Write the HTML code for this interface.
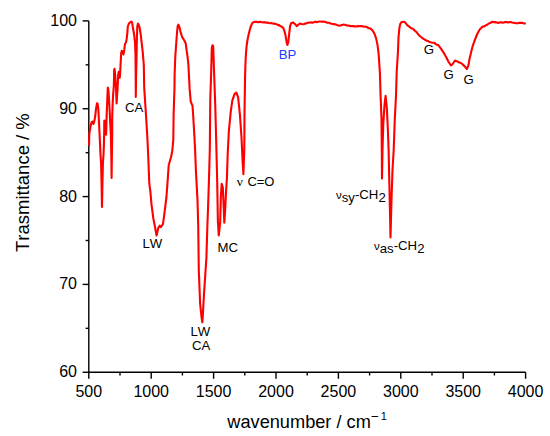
<!DOCTYPE html>
<html><head><meta charset="utf-8"><style>
html,body{margin:0;padding:0;background:#fff;}
svg{display:block;}
text{font-family:"Liberation Sans",sans-serif;fill:#000;font-kerning:none;}
</style></head><body>
<svg width="550" height="436" viewBox="0 0 550 436">
<g stroke="#000" stroke-width="1.4" fill="none">
<path d="M88.80,20.90 V372.25 H525.60"/>
<line x1="88.80" y1="372.25" x2="88.80" y2="378.75"/><line x1="151.20" y1="372.25" x2="151.20" y2="378.75"/><line x1="213.60" y1="372.25" x2="213.60" y2="378.75"/><line x1="276.00" y1="372.25" x2="276.00" y2="378.75"/><line x1="338.40" y1="372.25" x2="338.40" y2="378.75"/><line x1="400.80" y1="372.25" x2="400.80" y2="378.75"/><line x1="463.20" y1="372.25" x2="463.20" y2="378.75"/><line x1="525.60" y1="372.25" x2="525.60" y2="378.75"/><line x1="120.00" y1="372.25" x2="120.00" y2="375.45"/><line x1="182.40" y1="372.25" x2="182.40" y2="375.45"/><line x1="244.80" y1="372.25" x2="244.80" y2="375.45"/><line x1="307.20" y1="372.25" x2="307.20" y2="375.45"/><line x1="369.60" y1="372.25" x2="369.60" y2="375.45"/><line x1="432.00" y1="372.25" x2="432.00" y2="375.45"/><line x1="494.40" y1="372.25" x2="494.40" y2="375.45"/><line x1="82.60" y1="372.25" x2="88.80" y2="372.25"/><line x1="82.60" y1="284.41" x2="88.80" y2="284.41"/><line x1="82.60" y1="196.58" x2="88.80" y2="196.58"/><line x1="82.60" y1="108.74" x2="88.80" y2="108.74"/><line x1="82.60" y1="20.90" x2="88.80" y2="20.90"/><line x1="85.60" y1="328.33" x2="88.80" y2="328.33"/><line x1="85.60" y1="240.49" x2="88.80" y2="240.49"/><line x1="85.60" y1="152.66" x2="88.80" y2="152.66"/><line x1="85.60" y1="64.82" x2="88.80" y2="64.82"/>
</g>
<polyline points="89.00,145.50 89.30,134.00 90.30,127.80 91.60,122.10 92.80,121.50 93.50,124.00 94.10,122.10 95.10,117.10 96.00,108.90 97.00,103.20 97.60,103.80 98.30,108.90 98.90,120.20 99.50,132.80 100.10,145.40 100.50,155.00 101.10,163.50 101.60,185.00 102.00,207.00 102.40,185.00 102.90,163.50 103.50,155.00 103.90,145.00 104.20,132.80 104.30,120.50 105.20,121.50 106.10,134.70 106.70,114.00 107.30,99.00 107.80,87.50 108.40,90.00 109.00,98.90 109.70,111.50 110.30,124.10 110.90,135.00 111.30,155.00 111.60,178.00 111.90,155.00 112.20,135.00 112.20,117.80 112.60,105.20 113.10,95.10 113.80,86.30 114.10,75.00 114.10,70.00 114.50,68.80 115.20,75.00 115.90,85.20 116.60,103.50 117.50,89.80 118.20,75.00 118.70,71.90 119.30,74.10 119.70,77.80 120.10,74.10 120.70,62.00 121.20,53.00 121.80,50.80 122.60,51.50 123.50,54.50 124.30,49.90 124.70,45.80 125.20,43.50 126.00,42.40 126.70,38.90 127.10,34.80 127.40,32.10 127.80,26.50 128.90,23.60 130.00,22.50 131.20,21.60 132.00,22.10 132.90,27.60 134.10,34.50 135.00,42.50 135.50,55.00 135.70,75.00 135.80,97.00 136.10,75.00 136.60,55.00 136.90,37.90 137.30,26.50 137.90,23.60 138.70,24.70 139.60,27.60 140.70,34.50 141.50,41.40 142.70,51.70 143.80,65.00 144.20,87.60 146.00,115.10 147.50,140.00 148.50,163.00 149.20,181.40 149.70,187.10 150.30,190.60 151.50,204.40 153.30,218.20 155.00,227.00 156.60,235.50 157.50,231.50 158.30,227.90 159.70,225.70 160.80,227.20 161.90,225.70 163.00,223.90 164.10,215.90 166.40,197.50 167.60,181.40 168.70,165.30 171.00,157.20 172.20,151.50 173.30,140.00 173.60,115.10 174.50,87.60 174.60,75.00 175.30,56.30 176.30,42.50 177.10,31.50 177.70,26.00 178.40,24.60 179.50,27.40 180.80,32.90 182.20,37.00 184.30,40.50 185.70,43.20 186.30,48.10 187.50,56.30 188.40,64.60 189.60,88.40 190.70,101.30 192.50,105.80 193.20,116.00 194.30,134.30 195.10,150.00 196.00,172.60 197.50,200.10 198.20,225.00 198.80,270.50 200.10,303.30 201.40,316.00 202.30,322.30 202.80,316.00 203.90,295.80 206.40,257.90 207.40,225.00 208.00,209.30 208.90,181.80 209.80,150.00 210.30,97.60 211.10,75.00 211.60,56.30 211.80,48.10 212.50,45.30 213.20,46.00 214.00,70.00 215.30,106.80 216.30,145.00 217.20,181.80 217.90,221.70 218.80,235.50 220.20,221.70 220.90,195.90 221.70,183.80 222.80,187.20 223.60,204.50 224.30,222.60 225.30,207.90 226.00,192.40 226.90,178.60 227.70,153.60 228.90,130.60 230.70,112.20 232.30,100.70 234.60,93.80 236.30,92.60 238.10,97.20 239.90,114.50 241.50,137.50 242.70,162.80 243.40,174.30 244.30,149.00 244.50,114.50 245.00,80.00 245.40,65.00 245.90,55.00 246.50,47.00 247.30,41.00 248.30,36.00 249.60,30.50 250.80,26.40 252.40,22.90 254.00,22.00 255.22,21.87 256.45,21.74 257.67,22.21 258.90,22.10 260.10,21.79 261.30,22.28 262.50,22.20 263.70,22.40 264.98,22.16 266.26,22.73 267.54,22.46 268.82,22.98 270.10,23.20 271.75,23.11 273.40,23.80 274.57,23.60 275.73,24.07 276.90,24.30 278.03,25.19 279.17,25.16 280.30,26.10 281.75,26.70 283.20,27.80 284.30,30.60 285.50,35.20 286.60,42.10 287.40,45.00 288.30,42.10 289.30,32.90 290.10,26.10 291.20,23.20 292.90,22.40 294.70,23.80 295.85,25.06 297.00,26.10 298.10,24.90 300.00,23.50 301.50,24.00 303.60,24.30 305.00,23.50 306.15,23.55 307.30,22.80 308.50,22.74 309.70,22.44 310.90,22.40 312.45,22.73 314.00,22.20 315.40,21.63 316.80,22.19 318.20,21.70 319.47,21.54 320.73,21.45 322.00,21.80 323.17,21.52 324.33,21.76 325.50,22.00 326.75,22.63 328.00,22.70 329.25,22.81 330.50,23.50 331.97,23.84 333.43,24.16 334.90,24.30 336.20,24.64 337.50,25.20 339.50,25.80 340.65,25.59 341.80,24.91 342.95,24.65 344.10,24.80 345.26,24.78 346.42,25.44 347.58,25.45 348.74,25.59 349.90,26.00 351.06,26.16 352.22,26.12 353.38,26.06 354.54,26.58 355.70,26.40 356.86,26.50 358.02,26.01 359.18,26.23 360.34,26.10 361.50,26.00 362.97,26.57 364.43,26.67 365.90,26.70 367.10,27.01 368.30,28.13 369.50,28.20 371.00,28.96 372.50,30.40 374.60,34.00 376.10,38.40 377.50,44.90 378.60,53.60 379.90,72.90 380.60,95.90 381.50,118.80 381.80,150.00 382.00,178.60 382.50,150.00 383.30,123.40 384.50,105.00 385.60,95.90 386.80,107.30 387.90,130.30 388.60,150.00 389.50,190.00 390.50,237.50 391.50,200.00 392.50,170.00 393.70,150.00 394.80,118.80 396.00,95.90 396.70,72.00 398.00,51.00 398.50,37.50 399.40,27.90 400.30,23.80 401.70,22.00 403.80,21.70 405.10,22.40 407.20,25.10 408.60,26.08 410.00,27.20 411.37,28.33 412.73,28.69 414.10,29.90 415.23,31.06 416.37,31.82 417.50,33.40 418.80,35.00 420.10,36.30 421.60,37.50 422.80,38.50 424.00,39.10 425.20,39.80 426.43,40.71 427.65,40.78 428.88,41.70 430.10,42.10 431.25,42.43 432.40,42.67 433.55,42.81 434.70,43.10 435.90,44.07 437.10,44.83 438.30,45.10 441.30,49.10 443.60,52.60 445.50,56.00 446.40,57.50 448.60,62.00 451.00,65.50 452.30,64.50 453.30,63.00 455.10,60.50 456.55,61.13 458.00,61.80 459.33,62.61 460.67,62.74 462.00,63.80 463.25,65.13 464.50,66.10 466.90,69.00 468.50,64.90 469.70,57.90 470.70,54.10 471.60,50.30 472.50,46.70 474.30,41.50 477.20,34.00 479.90,29.30 481.25,28.03 482.60,26.50 484.00,26.49 485.40,25.60 487.20,24.70 489.10,23.20 490.30,23.06 491.50,22.14 492.70,21.90 493.80,22.00 494.90,22.45 496.00,22.07 497.10,22.67 498.20,22.90 499.30,22.52 500.40,22.40 501.50,22.26 502.60,22.82 503.70,22.50 504.82,22.09 505.94,22.11 507.06,22.16 508.18,22.51 509.30,22.10 510.68,21.92 512.05,22.45 513.42,22.74 514.80,22.90 515.90,23.25 517.00,23.19 518.10,23.23 519.20,22.70 520.30,22.90 521.40,22.88 522.50,22.89 523.60,23.43 524.70,23.55 525.80,23.20" fill="none" stroke="#ff0000" stroke-width="2.1" stroke-linejoin="round"/>
<g font-size="16">
<text x="88.80" y="396.8" text-anchor="middle">500</text><text x="151.20" y="396.8" text-anchor="middle">1000</text><text x="213.60" y="396.8" text-anchor="middle">1500</text><text x="276.00" y="396.8" text-anchor="middle">2000</text><text x="338.40" y="396.8" text-anchor="middle">2500</text><text x="400.80" y="396.8" text-anchor="middle">3000</text><text x="463.20" y="396.8" text-anchor="middle">3500</text><text x="525.60" y="396.8" text-anchor="middle">4000</text><text x="77" y="377.25" text-anchor="end">60</text><text x="77" y="289.41" text-anchor="end">70</text><text x="77" y="201.58" text-anchor="end">80</text><text x="77" y="113.74" text-anchor="end">90</text><text x="77" y="25.90" text-anchor="end">100</text>
</g>
<text x="227.3" y="428" font-size="18.2">wavenumber / cm</text><text x="371" y="421" font-size="13.5">−</text><text x="380.8" y="419.8" font-size="11">1</text>
<text transform="translate(28.9,252) rotate(-90)" font-size="18.5">Trasmittance / %</text>
<g font-size="13.2">
<text x="125" y="111.8">CA</text>
<text x="142.4" y="247.7">LW</text>
<text x="217.4" y="251.7">MC</text>
<text x="190.5" y="335.8">LW</text>
<text x="192" y="349.6">CA</text>
<text x="236.7" y="185.6" font-family="Liberation Serif" style="font-family:'Liberation Serif',serif" font-size="13.5">ν</text><text x="247.4" y="185.5" font-size="13">C=O</text>
<text x="278.8" y="58.6" style="fill:#2040ff">BP</text>
<text x="336" y="198.6" font-size="13.2"><tspan font-size="11.5">ν</tspan><tspan dy="3">sy</tspan><tspan dy="-3">-CH</tspan><tspan dy="3">2</tspan></text>
<text x="374" y="249.7" font-size="13.2"><tspan font-size="11.5">ν</tspan><tspan dy="3">as</tspan><tspan dy="-3">-CH</tspan><tspan dy="3">2</tspan></text>
<text x="423.7" y="54.1">G</text>
<text x="443.6" y="78.7">G</text>
<text x="463.6" y="83.6">G</text>
</g>
</svg>
</body></html>
